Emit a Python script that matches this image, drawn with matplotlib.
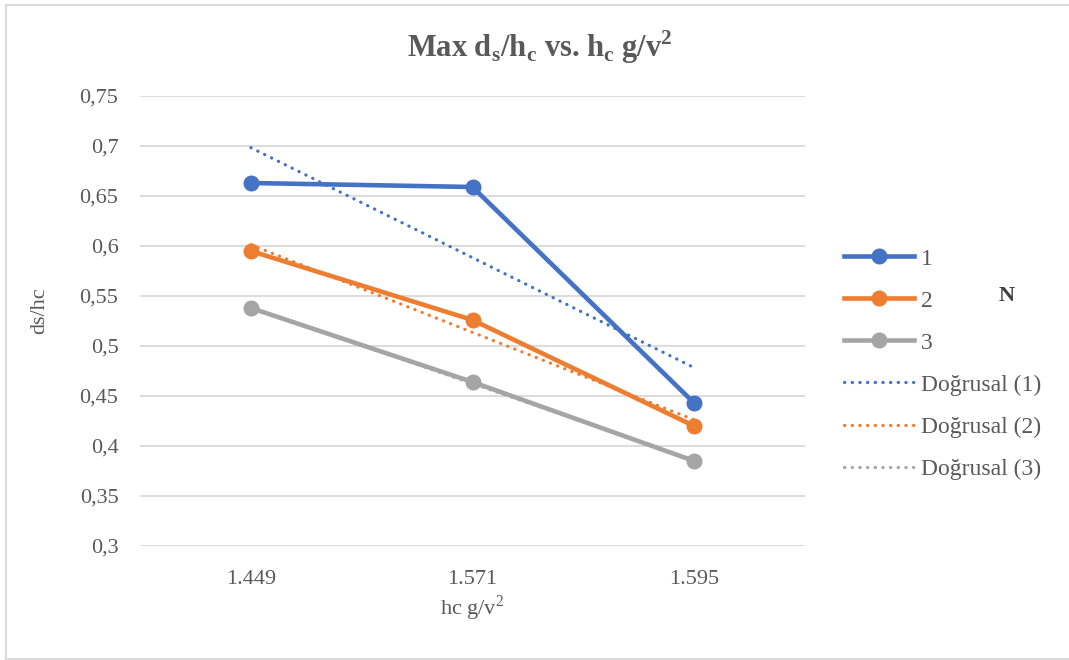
import numpy as np
import matplotlib
matplotlib.use("Agg")
import matplotlib.pyplot as plt
from matplotlib.lines import Line2D

# ---- data ----
categories = ["1.449", "1.571", "1.595"]
series_names = ["1", "2", "3"]
s1 = [0.663, 0.659, 0.443]
s2 = [0.595, 0.526, 0.420]
s3 = [0.538, 0.464, 0.385]
yticks = [0.3, 0.35, 0.4, 0.45, 0.5, 0.55, 0.6, 0.65, 0.7, 0.75]
ytick_labels = ["0,3", "0,35", "0,4", "0,45", "0,5", "0,55", "0,6", "0,65", "0,7", "0,75"]
colors = ["#4472C4", "#ED7D31", "#A5A5A5"]

plt.rcParams['font.family'] = ['Liberation Serif', 'DejaVu Serif']
plt.rcParams['mathtext.fontset'] = 'custom'
plt.rcParams['mathtext.rm'] = 'Liberation Serif'
plt.rcParams['mathtext.bf'] = 'Liberation Serif:bold'
W, H = 1069, 660
fig = plt.figure(figsize=(W / 100, H / 100), dpi=100)

# plot area in pixels: left 140, right 805, top 96, bottom 546
l, r, t, b = 140, 805, 96, 546
ax = fig.add_axes([l / W, 1 - b / H, (r - l) / W, (b - t) / H])

x = np.arange(len(categories))
text_col = "#595959"
fs = 16
lfs = 17
dot_style = (0, (0.1, 2.3))

all_series = [s1, s2, s3]
for vals, c, name in zip(all_series, colors, series_names):
    ax.plot(x, vals, color=c, lw=3.3, marker="o", ms=10.5, zorder=3,
            solid_capstyle="round", solid_joinstyle="round")
for vals, c in zip(all_series, colors):
    k, m = np.polyfit(x, vals, 1)
    ax.plot(x, k * x + m, color=c, lw=2.3, linestyle=dot_style,
            dash_capstyle="round", zorder=4)

ax.set_xlim(-0.5, len(categories) - 0.5)
ax.set_ylim(0.3, 0.75)
ax.set_yticks(yticks)
ax.set_yticklabels(ytick_labels)
ax.set_xticks(x)
ax.set_xticklabels(categories)
ax.grid(axis="y", color="#D9D9D9", lw=1.3)
ax.set_axisbelow(True)
for s in ax.spines.values():
    s.set_visible(False)
ax.tick_params(axis="y", length=0, labelsize=fs, colors=text_col, pad=15.5)
ax.tick_params(axis="x", length=0, labelsize=fs, colors=text_col, pad=17.5)

fig.text(40 / W, 1 - 311 / H, "ds/hc", rotation=90, ha="center", va="center",
         fontsize=fs, color=text_col)
fig.text(472 / W, 1 - 608 / H, "hc g/v$^{2}$", ha="center", va="center",
         fontsize=fs, color=text_col)

fig.text(540 / W, 1 - 47 / H,
         r"Max d$_{\mathbf{s}}$/h$_{\mathbf{c}}$ vs. h$_{\mathbf{c}}$ g/v$^{\mathbf{2}}$",
         ha="center", va="center", fontsize=22, fontweight="bold", color=text_col)

# legend
handles = []
labels = []
for c, name in zip(colors, series_names):
    handles.append(Line2D([], [], color=c, lw=3.3, marker="o", ms=10.5))
    labels.append(name)
for c, name in zip(colors, series_names):
    handles.append(Line2D([], [], color=c, lw=2.3, linestyle=dot_style,
                          dash_capstyle="round"))
    labels.append("Doğrusal (" + name + ")")
leg = fig.legend(handles, labels, loc="upper left",
                 bbox_to_anchor=(844 / W, 1 - 248 / H),
                 frameon=False, fontsize=lfs, handlelength=2.95,
                 handletextpad=0.3, labelspacing=0.87,
                 borderpad=0, borderaxespad=0, labelcolor=text_col)
fig.text(1007 / W, 1 - 296 / H, "N", ha="center", va="center",
         fontsize=16, fontweight="bold", color="#404040")

# chart border
border_col = "#D9D9D9"
fig.add_artist(Line2D([6 / W, 6 / W], [1 - 5 / H, 1 - 659 / H], color=border_col, lw=1.5,
                      transform=fig.transFigure))
fig.add_artist(Line2D([6 / W, 1], [1 - 5 / H, 1 - 5 / H], color=border_col, lw=1.5,
                      transform=fig.transFigure))
fig.add_artist(Line2D([6 / W, 1], [1 - 659 / H, 1 - 659 / H], color=border_col, lw=1.5,
                      transform=fig.transFigure))

fig.savefig("out.png", dpi=100)
